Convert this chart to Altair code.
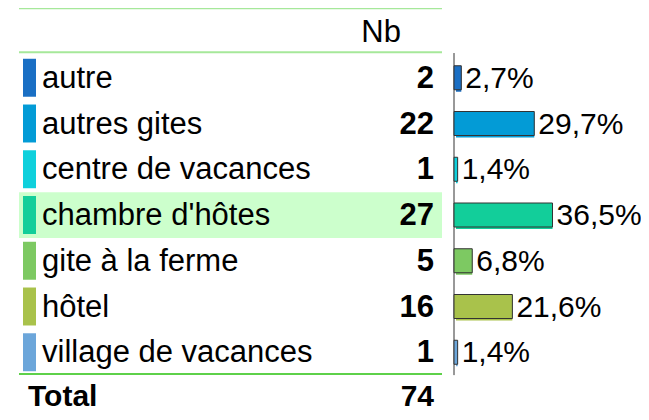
import altair as alt
import pandas as pd

categories = ["autre", "autres gites", "centre de vacances", "chambre d'hôtes",
              "gite à la ferme", "hôtel", "village de vacances"]
counts = [2, 22, 1, 27, 5, 16, 1]
colors = ["#1A6FC4", "#039BD6", "#0FD0DC", "#12CE9A", "#7DC962", "#A9C24B", "#6CA6DA"]
highlighted = "chambre d'hôtes"
header_label = "Nb"
total_label = "Total"

total = sum(counts)
df = pd.DataFrame({
    "cat": categories,
    "nb": counts,
    "color": colors,
    "row": list(range(1, len(categories) + 1)),
})
df["hl"] = df["cat"] == highlighted
total_row = len(categories) + 1

FONT = "Liberation Sans"
FS = 31
FSP = 30


def ysc():
    return alt.Scale(domain=[0, total_row], range=[24, 390], padding=0, nice=False, zero=False)


xs = alt.Scale(domain=[0, 100], range=[446, 716], padding=0, nice=False)
y = alt.Y("row:Q", scale=ysc(), axis=None)

base = alt.Chart(df).transform_calculate(
    pct="datum.nb / %d * 100" % total,
    lab="replace(format(datum.nb / %d * 100, '.1f'), '.', ',') + '%%'" % total,
    y1="datum.row - 0.5", y2="datum.row + 0.5",
    m1="datum.row - 0.415", m2="datum.row + 0.415",
    zero="0",
)

hl = base.transform_filter("datum.hl").mark_rect(color="#CCFFCC").encode(
    x=alt.value(11), x2=alt.value(434),
    y=alt.Y("y1:Q", scale=ysc(), axis=None),
    y2="y2:Q",
)

markers = base.mark_rect().encode(
    x=alt.value(15), x2=alt.value(28),
    y=alt.Y("m1:Q", scale=ysc(), axis=None),
    y2="m2:Q",
    color=alt.Color("color:N", scale=None),
)

labels = base.mark_text(align="left", baseline="middle", font=FONT, fontSize=FS,
                        color="black", dy=1).encode(
    x=alt.value(34), y=y, text="cat:N")

nums = base.mark_text(align="right", baseline="middle", font=FONT, fontSize=FS,
                      fontWeight="bold", color="black", dy=1).encode(
    x=alt.value(426), y=y, text="nb:Q")

shadow = base.mark_bar(orient="horizontal", height=24, xOffset=2, yOffset=2).encode(
    x=alt.X("zero:Q", scale=xs, axis=None), x2="pct:Q", y=y,
    color=alt.Color("color:N", scale=None),
)
bars = base.mark_bar(orient="horizontal", height=24, stroke="#333333", strokeWidth=1).encode(
    x=alt.X("zero:Q", scale=xs, axis=None), x2="pct:Q", y=y,
    color=alt.Color("color:N", scale=None),
)
pcts = base.mark_text(align="left", baseline="middle", font=FONT, fontSize=FSP,
                      color="black", dx=4, dy=1).encode(
    x=alt.X("pct:Q", scale=xs, axis=None), y=y, text="lab:N")

summary = pd.DataFrame({"row": [0, total_row], "left": ["", total_label],
                        "right": [header_label, str(total)],
                        "bold": [False, True]})
sbase = alt.Chart(summary)
header = sbase.transform_filter("datum.row == 0").mark_text(
    align="right", baseline="middle", font=FONT, fontSize=FS, color="black", dy=1).encode(
    x=alt.value(393), y=y, text="right:N")
tot_l = sbase.transform_filter("datum.bold").mark_text(
    align="left", baseline="middle", font=FONT, fontSize=30, fontWeight="bold",
    color="black", dy=-1).encode(x=alt.value(20), y=y, text="left:N")
tot_r = sbase.transform_filter("datum.bold").mark_text(
    align="right", baseline="middle", font=FONT, fontSize=30, fontWeight="bold",
    color="black", dy=-1).encode(x=alt.value(426), y=y, text="right:N")

top_lines = alt.Chart(pd.DataFrame({"r": [-0.52, 0.44]})).mark_rule(
    color="#A6E89A", strokeWidth=2).encode(
    x=alt.value(11), x2=alt.value(434), y=alt.Y("r:Q", scale=ysc(), axis=None))
bottom_line = alt.Chart(pd.DataFrame({"r": [total_row - 0.525]})).mark_rule(
    color="#5ED14A", strokeWidth=2).encode(
    x=alt.value(11), x2=alt.value(434), y=alt.Y("r:Q", scale=ysc(), axis=None))

axis_line = alt.Chart(pd.DataFrame({"a": [0.46], "b": [total_row - 0.5], "z": [0]})).mark_rule(
    color="#333333", strokeWidth=1).encode(
    x=alt.X("z:Q", scale=xs, axis=None),
    y=alt.Y("a:Q", scale=ysc(), axis=None),
    y2="b:Q")

chart = alt.layer(hl, top_lines, bottom_line, markers, labels, nums, axis_line,
                  shadow, bars, pcts, header, tot_l, tot_r).properties(
    width=633, height=404,
    autosize=alt.AutoSizeParams(type="none"),
    padding=0,
).configure_view(stroke=None).resolve_scale(color="independent")

chart.save("out.html", embed_options={"renderer": "svg", "actions": False})
